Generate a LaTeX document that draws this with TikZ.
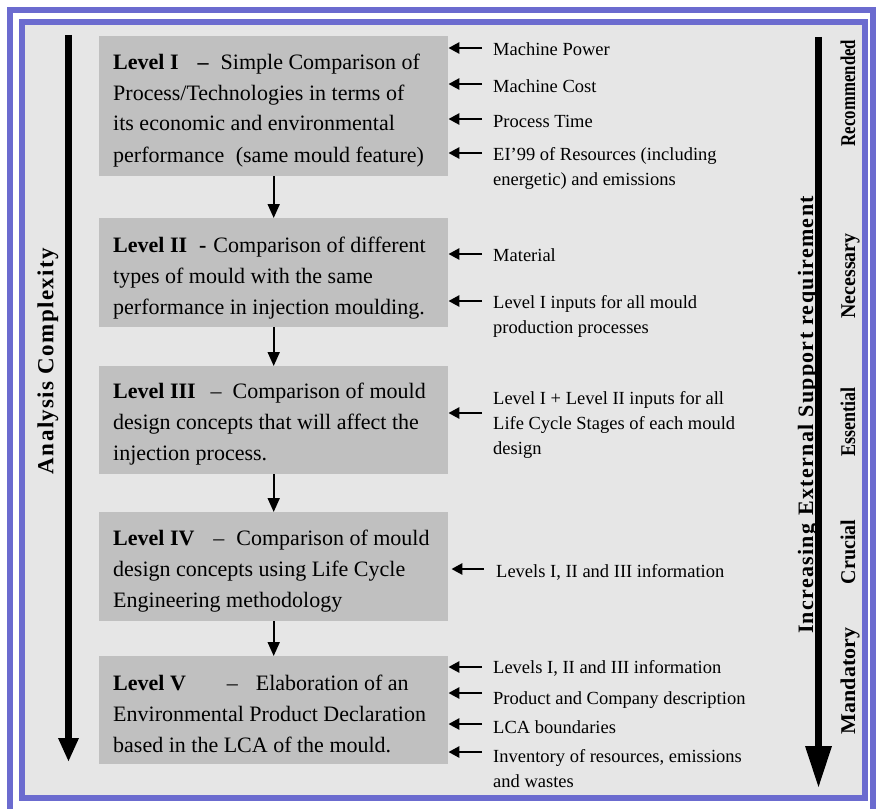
\documentclass[tikz,border=0pt]{standalone}
\usepackage{fontspec}
\setmainfont{Liberation Serif}
\newfontfamily\spacedserif[LetterSpace=6]{Liberation Serif}
\usetikzlibrary{arrows.meta}
\definecolor{frameblue}{RGB}{107,107,207}
\definecolor{bggrey}{RGB}{230,230,230}
\definecolor{boxgrey}{RGB}{192,192,192}
\newcommand\mylines[2]{\vtop{\baselineskip=#1\lineskiplimit=-100pt\lineskip=0pt\halign{##\hfil\cr#2\crcr}}}
\begin{document}
\begin{tikzpicture}[x=1pt,y=-1pt,
  lvbox/.style={fill=boxgrey, draw=none, minimum width=349pt, minimum height=#1, anchor=north west, inner sep=0pt},
  lvtext/.style={anchor=base west, inner sep=0pt, font=\fontsize{22}{31}\selectfont},
  intext/.style={anchor=base west, inner sep=0pt, font=\fontsize{18.5}{25}\selectfont},
  darr/.style={line width=1.8pt, -{Triangle[width=12pt,length=14pt]}},
  inarr/.style={line width=2.7pt, -{Triangle[width=11pt,length=11pt]}},
  vword/.style={rotate=90, anchor=base, inner sep=0pt, font=\bfseries\fontsize{21}{21}\selectfont}
]
\useasboundingbox (0,0) rectangle (877,808);
\clip (0,0) rectangle (877,808);
\fill[white] (0,0) rectangle (877,808);
% frames
\draw[frameblue, line width=6.5pt] (10,10) rectangle (873,815);
\draw[frameblue, line width=6pt, fill=bggrey] (22,22) rectangle (864.5,798);

% level boxes
\node[lvbox=140pt] (b1) at (99,36) {};
\node[lvbox=109pt] (b2) at (99,218) {};
\node[lvbox=108pt] (b3) at (99,366) {};
\node[lvbox=109pt] (b4) at (99,512) {};
\node[lvbox=108pt] (b5) at (99,656) {};

\node[lvtext] (t1) at (113,69) {\mylines{31pt}{\textbf{Level I}\hspace{19pt}\textbf{–}\hspace{12pt}Simple Comparison of\cr Process/Technologies in terms of\cr its economic and environmental\cr performance\hspace{6pt} (same mould feature)}};
\node[lvtext] (t2) at (113,252) {\mylines{31pt}{\textbf{Level II}\hspace{12pt}\textbf{-}\hspace{7pt}Comparison of different\cr types of mould with the same\cr performance in injection moulding.}};
\node[lvtext] (t3) at (113,398) {\mylines{31pt}{\textbf{Level III}\hspace{15pt}–\hspace{11pt}Comparison of mould\cr design concepts that will affect the\cr injection process.}};
\node[lvtext] (t4) at (113,545) {\mylines{31pt}{\textbf{Level IV}\hspace{19pt}–\hspace{12pt}Comparison of mould\cr design concepts using Life Cycle\cr Engineering methodology}};
\node[lvtext] (t5) at (113,690) {\mylines{31pt}{\textbf{Level V}\hspace{41pt}–\hspace{18pt}Elaboration of an\cr Environmental Product Declaration\cr based in the LCA of the mould.}};

\draw[darr] (b1.south) -- (b2.north);
\draw[darr] (b2.south) -- (b3.north);
\draw[darr] (b3.south) -- (b4.north);
\draw[darr] (b4.south) -- (b5.north);

% inputs
\node[intext] (i11) at (493,56) {Machine Power};
\node[intext] (i12) at (493,92) {Machine Cost};
\node[intext] (i13) at (493,127) {Process Time};
\node[intext] (i14) at (493,160) {\mylines{25pt}{EI’99 of Resources (including\cr energetic) and emissions}};
\node[intext] (i21) at (493,261) {Material};
\node[intext] (i22) at (493,308) {\mylines{25pt}{Level I inputs for all mould\cr production processes}};
\node[intext] (i31) at (493,404) {\mylines{25pt}{Level I + Level II inputs for all\cr Life Cycle Stages of each mould\cr design}};
\node[intext] (i41) at (496,577) {Levels I, II and III information};
\node[intext] (i51) at (493,673) {Levels I, II and III information};
\node[intext] (i52) at (493,704) {Product and Company description};
\node[intext] (i53) at (493,733) {LCA boundaries};
\node[intext] (i54) at (493,762) {\mylines{25pt}{Inventory of resources, emissions\cr and wastes}};

\coordinate (a11) at (482,48);
\coordinate (a12) at (482,84);
\coordinate (a13) at (482,119);
\coordinate (a14) at (482,153);
\coordinate (a21) at (482,254);
\coordinate (a22) at (482,301);
\coordinate (a31) at (482,413);
\coordinate (a41) at (484,569);
\coordinate (a51) at (482,667);
\coordinate (a52) at (482,693);
\coordinate (a53) at (482,724);
\coordinate (a54) at (482,752);
\foreach \a/\b in {a11/b1,a12/b1,a13/b1,a14/b1,a21/b2,a22/b2,a31/b3,a51/b5,a52/b5,a53/b5,a54/b5}
  \draw[inarr] (\a) -- (\a -| \b.east);
\draw[inarr] (a41) -- ([xshift=3pt]a41 -| b4.east);

% big arrows
\coordinate (lt) at (68.5,35);
\coordinate (lb) at (68.5,762);
\draw[line width=7pt, -{Triangle[width=19pt,length=24pt]}] (lt) -- (lb);
\coordinate (rt) at (818.5,37);
\coordinate (rb) at (818.5,788);
\draw[line width=6.5pt, -{Triangle[width=25pt,length=42pt]}] (rt) -- (rb);

% vertical texts
\node[rotate=90, inner sep=0pt, font=\spacedserif\bfseries\fontsize{23}{23}\selectfont] (ac) at (48,361) {Analysis Complexity};
\node[rotate=90, anchor=base, inner sep=0pt, font=\spacedserif\bfseries\fontsize{22}{22}\selectfont] (ies) at (813,415) {Increasing\hspace{8pt}External Support requirement};
\node[vword] (w1) at (855,93) {\scalebox{0.8}[1]{Recommended}};
\node[vword] (w2) at (855,276) {\scalebox{0.95}[1]{Necessary}};
\node[vword] (w3) at (855,422) {\scalebox{0.86}[1]{Essential}};
\node[vword] (w4) at (855,552) {\scalebox{0.95}[1]{Crucial}};
\node[vword] (w5) at (855,681) {\scalebox{1.05}[1]{Mandatory}};
\end{tikzpicture}
\end{document}
